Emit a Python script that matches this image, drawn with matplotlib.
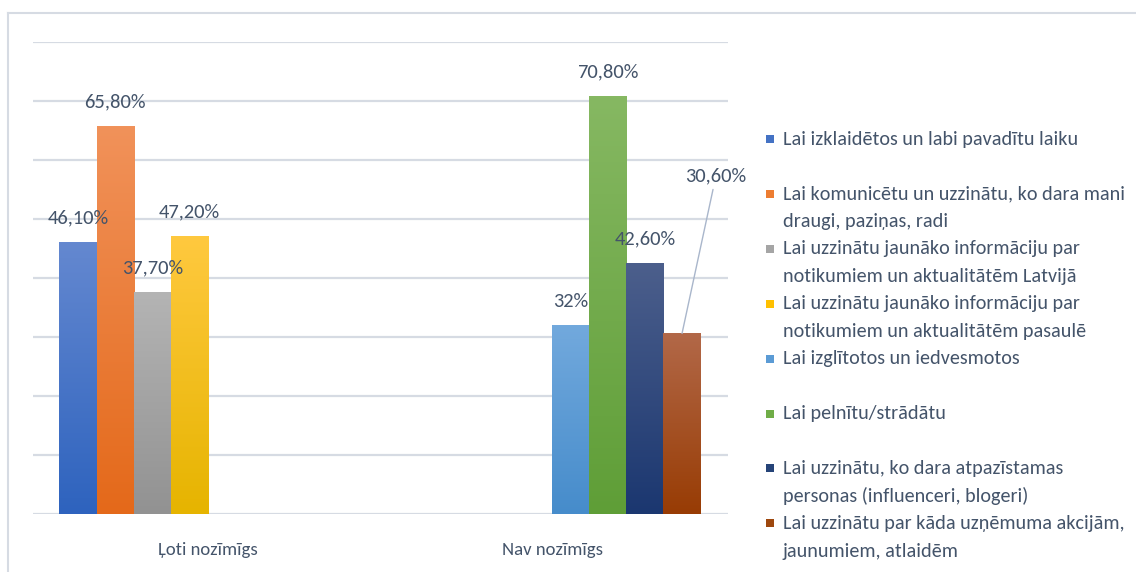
import numpy as np
import matplotlib
matplotlib.use("Agg")
import matplotlib.pyplot as plt
import matplotlib.font_manager as fm
from matplotlib.lines import Line2D
from matplotlib.patches import Rectangle
from matplotlib.colors import to_rgb

# %% Data
categories = ["Ļoti nozīmīgs", "Nav nozīmīgs"]
series_names = [
    "Lai izklaidētos un labi pavadītu laiku",
    "Lai komunicētu un uzzinātu, ko dara mani\ndraugi, paziņas, radi",
    "Lai uzzinātu jaunāko informāciju par\nnotikumiem un aktualitātēm Latvijā",
    "Lai uzzinātu jaunāko informāciju par\nnotikumiem un aktualitātēm pasaulē",
    "Lai izglītotos un iedvesmotos",
    "Lai pelnītu/strādātu",
    "Lai uzzinātu, ko dara atpazīstamas\npersonas (influenceri, blogeri)",
    "Lai uzzinātu par kāda uzņēmuma akcijām,\njaunumiem, atlaidēm",
]
# value per series: (Ļoti nozīmīgs, Nav nozīmīgs); None = no bar
values = [
    [46.1, None],
    [65.8, None],
    [37.7, None],
    [47.2, None],
    [None, 32.0],
    [None, 70.8],
    [None, 42.6],
    [None, 30.6],
]
value_labels = [
    ["46,10%", None],
    ["65,80%", None],
    ["37,70%", None],
    ["47,20%", None],
    [None, "32%"],
    [None, "70,80%"],
    [None, "42,60%"],
    [None, "30,60%"],
]

# %% Styles
base_colors = ["#4472C4", "#ED7D31", "#A5A5A5", "#FFC000",
               "#5B9BD5", "#70AD47", "#264478", "#9E480E"]
top_colors = ["#6488D0", "#F1925A", "#B4B4B4", "#FFC93F",
              "#72A9DD", "#86B862", "#4C5F8C", "#B26848"]
bottom_colors = ["#2E63BE", "#E4691A", "#929292", "#E6B400",
                 "#468CCB", "#5F9E37", "#1B3770", "#983C04"]
text_color = "#44546A"
grid_color = "#D6DBE3"

# Calibri-like font if there, else plain Liberation Sans (smaller sizes)
installed = {f.name for f in fm.fontManager.ttflist}
families = [f for f in ["Carlito", "Liberation Sans Narrow"] if f in installed]
plt.rcParams["font.family"] = families + ["Liberation Sans", "DejaVu Sans"]
if families:
    label_fs, cat_fs, legend_fs = 14.8, 13.5, 14.5
else:
    label_fs, cat_fs, legend_fs = 13.5, 12.5, 12.5

W, H = 1136, 572
fig = plt.figure(figsize=(W / 100, H / 100), dpi=100)
fig.patch.set_facecolor("white")

# plot area in pixels
px_left, px_right, px_top, px_bottom = 33, 728, 42, 514
ax = fig.add_axes([px_left / W, 1 - px_bottom / H,
                   (px_right - px_left) / W, (px_bottom - px_top) / H])

# chart border (left and top edges visible)
fig.add_artist(Line2D([8 / W, 8 / W], [0, 1 - 13 / H], transform=fig.transFigure,
                      color=grid_color, lw=1.5))
fig.add_artist(Line2D([8 / W, 1], [1 - 13 / H, 1 - 13 / H], transform=fig.transFigure,
                      color=grid_color, lw=1.5))

n = len(series_names)
bar_w = 0.108
x = np.arange(len(categories))

for i in range(n):
    offs = (i - (n - 1) / 2) * bar_w
    for j in range(len(categories)):
        v = values[i][j]
        if v is None:
            continue
        rect = ax.bar(x[j] + offs, v, bar_w, color=base_colors[i], zorder=2)[0]
        # vertical gradient fill, lighter at the top
        c1 = np.array(to_rgb(top_colors[i]))
        c2 = np.array(to_rgb(bottom_colors[i]))
        t = np.linspace(0, 1, 100)[:, None]
        grad = (c1 * (1 - t) + c2 * t)[:, None, :]
        im = ax.imshow(grad, extent=[rect.get_x(), rect.get_x() + rect.get_width(), 0, v],
                       aspect="auto", origin="upper", zorder=3, interpolation="bilinear")
        im.set_clip_path(rect)

        lab = value_labels[i][j]
        if i == 7:
            # label moved away with a leader line
            ax.annotate(lab, xy=(x[j] + offs, v), xytext=(34, 158),
                        textcoords="offset pixels", ha="center", va="center",
                        fontsize=label_fs, color=text_color, zorder=5,
                        arrowprops=dict(arrowstyle="-", color="#A9B6CB", lw=1,
                                        shrinkA=2, shrinkB=0))
        else:
            ax.annotate(lab, xy=(x[j] + offs, v), xytext=(0, 24),
                        textcoords="offset pixels", ha="center", va="center",
                        fontsize=label_fs, color=text_color, zorder=5)

# axes: 0 at x=208px, 1 at x=552px
ax.set_xlim(-(208 - px_left) / 344, 1 + (px_right - 552) / 344)
ax.set_ylim(0, 80)
ax.set_yticks(np.arange(0, 81, 10))
ax.yaxis.grid(True, color=grid_color, lw=1.6, zorder=0)
ax.set_axisbelow(True)
ax.tick_params(axis="y", left=False, labelleft=False)
ax.set_xticks(x)
ax.set_xticklabels(categories, fontsize=cat_fs, color=text_color)
ax.tick_params(axis="x", bottom=False, pad=17)
for s in ax.spines.values():
    s.set_visible(False)

# legend drawn by hand to match the evenly spaced entries
leg_y0, leg_step, line_h = 139, 54.9, 28
for i, name in enumerate(series_names):
    y = leg_y0 + i * leg_step
    fig.add_artist(Rectangle((766 / W, 1 - (y + 4) / H), 8 / W, 8 / H,
                             transform=fig.transFigure, facecolor=base_colors[i],
                             edgecolor="none"))
    for k, line in enumerate(name.split("\n")):
        fig.text(783 / W, 1 - (y + k * line_h) / H, line, fontsize=legend_fs,
                 color=text_color, ha="left", va="center")

fig.savefig("out.png", dpi=100, facecolor="white")
